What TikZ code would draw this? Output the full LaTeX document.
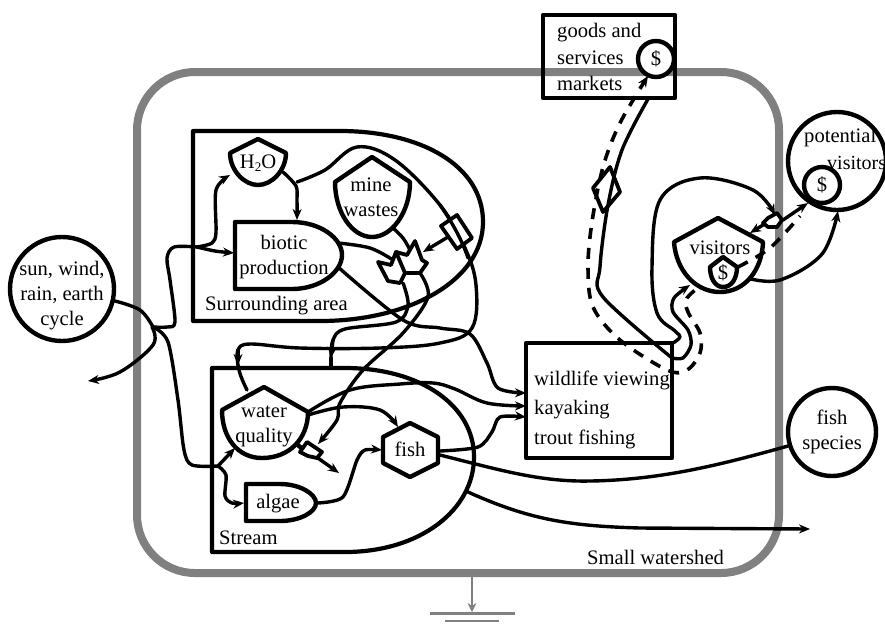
\documentclass[tikz,border=0pt]{standalone}
\usepackage{fontspec}
\setmainfont{Liberation Serif}
\usetikzlibrary{arrows.meta}
\tikzset{
  shp/.style={draw=black,line width=4.4pt,line join=round,fill=white},
  hollow/.style={draw=black,line width=4.2pt,line join=round},
  conn/.style={draw=black,line width=3.4pt,line cap=round,line join=round},
  tipped/.style={conn,-{Stealth[length=11pt,width=9pt]}},
  dashconn/.style={draw=black,line width=3.6pt,dash pattern=on 11pt off 9pt},
  dashtipped/.style={dashconn,-{Stealth[length=11pt,width=9pt]}},
  gate/.style={draw=black,line width=3.8pt,line join=round,fill=white},
  txt/.style={inner sep=0pt,align=center,font=\fontsize{20.6}{25}\selectfont},
  ltxt/.style={inner sep=0pt,align=left,anchor=west,font=\fontsize{20.6}{25}\selectfont},
  outline/.style={draw=black!50,line width=8pt},
  sink/.style={draw=black!50,line width=2.6pt},
}
\begin{document}
\begin{tikzpicture}[x=1pt,y=-1pt]
\useasboundingbox (0,0) rectangle (885,625);
% outer watershed
\draw[outline,rounded corners=58pt] (137,72) rectangle (779,573);
\coordinate (wsBot) at (472,577);
\coordinate (gnd) at (472,612);
\draw[sink,-{Stealth[length=9pt,width=9pt]}] (wsBot) -- (gnd);
\draw[sink] (430,613.5) -- (515,613.5);
\draw[sink] (445,621) -- (499,621);
\node[ltxt] (small) at (587,557) {Small watershed};

% regions
\draw[hollow] (193,131) -- (340,131) .. controls (420,131) and (483,165) .. (483,222) .. controls (483,280) and (410,321) .. (320,321) -- (193,321) -- cycle;
\node[ltxt] (surr) at (205,306) {Surrounding area};
\draw[hollow] (212,368) -- (345,368) .. controls (420,368) and (474,405) .. (474,457) .. controls (474,510) and (420,552) .. (345,552) -- (212,552) -- cycle;
\node[ltxt] (stream) at (219,538) {Stream};
% recreation box and markets box
\draw[shp] (526,343) rectangle (672,458);
\node[ltxt] (wv) at (534,380) {wildlife viewing};
\node[ltxt] (kay) at (534,410) {kayaking};
\node[ltxt] (trout) at (534,439) {trout fishing};
\draw[hollow] (543,15) rectangle (675,98);
\node[ltxt] (g1) at (557,33) {goods and};
\node[ltxt] (g2) at (557,58) {services};
\node[ltxt] (g3) at (557,83) {markets};

% connector end points
\coordinate (sunR) at (115,301);
\coordinate (jn1) at (153,327);
\coordinate (jn2) at (197,247);
\coordinate (jn3) at (218,466);
\coordinate (sinkA) at (88,381);
\coordinate (h2oIn) at (230,175);
\coordinate (h2oOut) at (283,172);
\coordinate (h2oOut2) at (297,182);
\coordinate (bioIn) at (297,220);
\coordinate (bioIn2) at (234,253);
\coordinate (bioOutA) at (338,243);
\coordinate (bioOutB) at (338,267);
\coordinate (mineOut) at (393,228);
\coordinate (gateInL) at (393,260);
\coordinate (gateInM) at (410,250);
\coordinate (gateOutL) at (403,283);
\coordinate (gateOutR) at (420,273);
\coordinate (gateInR) at (423,252);
\coordinate (swA) at (448,237);
\coordinate (wqIn) at (247,390);
\coordinate (wqMid) at (238,365);
\coordinate (strTop) at (331,367);
\coordinate (strMid) at (331,358);
\coordinate (wqLow) at (235,448);
\coordinate (wqR) at (308,412);
\coordinate (wqR2) at (308,415);
\coordinate (fishIn) at (398,427);
\coordinate (fishL) at (382,450);
\coordinate (fishR) at (440,451);
\coordinate (fishR2) at (440,455);
\coordinate (algIn) at (244,503);
\coordinate (algOut) at (317,503);
\coordinate (sg) at (318,444);
\coordinate (wqOut) at (298,445);
\coordinate (sgOut) at (339,473);
\coordinate (recA) at (526,393);
\coordinate (recB) at (526,406);
\coordinate (recC) at (526,417);
\coordinate (strOut) at (468,492);
\coordinate (outR) at (810,529);
\coordinate (speciesL) at (788,446);
\coordinate (recTop) at (673,343);
\coordinate (recTop2) at (672,358);
\coordinate (visIn) at (690,285);
\coordinate (goodsBot) at (648,99);
\coordinate (goodsDollar) at (648,76);
\coordinate (vdL) at (710,278);
\coordinate (vdR) at (738,267);
\coordinate (pdL) at (800,216);
\coordinate (pdB) at (808,203);
\coordinate (sw2In) at (775,215);
\coordinate (sw2A) at (763,225);
\coordinate (visTop) at (750,233);
\coordinate (visBR) at (747,278);
\coordinate (pvBot) at (838,211);

% sun and branches
\draw[conn] plot[smooth,tension=.6] coordinates {(sunR) (140,310) (jn1)};
\draw[tipped] plot[smooth,tension=.6] coordinates {(152,327) (153,345) (120,372) (sinkA)};
\draw[conn] plot[smooth,tension=.5] coordinates {(jn1) (167,327) (175,322) (170,280) (167,258) (174,247) (jn2)};
\draw[tipped] plot[smooth,tension=.5] coordinates {(jn2) (212,243) (216,232) (216,190) (h2oIn)};
\draw[tipped] plot[smooth,tension=.5] coordinates {(jn2) (215,251) (bioIn2)};
\draw[conn] plot[smooth,tension=.5] coordinates {(jn1) (168,342) (178,400) (184,450) (192,465) (jn3)};
\draw[tipped] (jn3) -- (wqLow);
\draw[tipped] plot[smooth,tension=.5] coordinates {(jn3) (226,475) (225,496) (232,503) (algIn)};

% H2O flows
\draw[tipped] plot[smooth,tension=.5] coordinates {(h2oOut) (296,186) (297,200) (bioIn)};
\draw[conn] plot[smooth,tension=.6] coordinates {(h2oOut2) (325,170) (357,147) (395,160) (440,205) (465,248) (476,285) (472,328) (440,343) (380,348) (300,348) (250,344) (238,350) (wqMid)};
\draw[tipped] (238,350) -- (wqMid);
\draw[conn] (wqMid) .. controls (239,372) and (242,380) .. (wqIn);
% biotic flows
\draw[conn] plot[smooth,tension=.6] coordinates {(bioOutA) (370,248) (gateInL)};
\draw[tipped] plot[smooth,tension=.55] coordinates {(bioOutB) (403,320) (440,328) (470,334) (487,363) (498,388) (recA)};
\draw[conn] plot[smooth,tension=.6] coordinates {(mineOut) (403,238) (gateInM)};
\draw[tipped] (swA) -- (gateInR);
\draw[conn] plot[smooth,tension=.55] coordinates {(gateOutL) (408,305) (396,322) (345,329) (333,340) (strMid)};
\draw[tipped] (333,340) -- (strMid);
\draw[conn] (strMid) -- (strTop);
\draw[tipped] plot[smooth,tension=.55] coordinates {(gateOutR) (428,297) (403,333) (363,370) (340,403) (337,420) (sg)};

% stream flows
\draw[tipped] plot[smooth,tension=.6] coordinates {(wqR) (350,390) (400,384) (433,383) (455,389) (487,403) (recB)};
\draw[tipped] plot[smooth,tension=.6] coordinates {(wqR2) (343,407) (380,410) (fishIn)};
\draw[tipped] plot[smooth,tension=.45] coordinates {(algOut) (343,497) (357,460) (365,450) (fishL)};
\draw[tipped] plot[smooth,tension=.5] coordinates {(fishR) (478,447) (492,432) (500,417) (recC)};
\draw[conn] (fishR2) .. controls (500,470) and (540,482) .. (590,481) .. controls (660,480) and (720,465) .. (speciesL);
\draw[tipped] (strOut) .. controls (530,520) and (570,526) .. (640,528) -- (outR);

% market flows
\draw[conn] plot[smooth,tension=.55] coordinates {(recTop2) (603,297) (600,267) (608,205) (622,150) (goodsBot)};
\draw[dashtipped] plot[smooth,tension=.55] coordinates {(vdL) (687,298) (688,312) (700,333) (700,353) (687,370) (667,370) (620,340) (593,307) (588,267) (592,222) (603,167) (620,123) (goodsDollar)};
\draw[tipped] plot[smooth,tension=.6] coordinates {(recTop) (680,337) (675,331) (657,313) (652,267) (660,200) (700,178) (753,190) (sw2In)};
\draw[tipped] plot[smooth,tension=.5] coordinates {(672,358) (683,358) (691,345) (688,330) (673,312) (674,298) (visIn)};
\draw[tipped] plot[smooth,tension=.6] coordinates {(visBR) (780,280) (822,254) (pvBot)};

% nodes
\draw[shp] (230,153) -- (258,139) -- (286,153) .. controls (286,170) and (272,185) .. (258,185) .. controls (244,185) and (230,170) .. (230,153) -- cycle;
\node[txt] (h2o) at (258,163) {H\raisebox{-.35ex}{\fontsize{13}{13}\selectfont 2}O};
\draw[shp] (235,222) -- (292,222) .. controls (320,222) and (342,238) .. (342,255) .. controls (342,272) and (320,289) .. (292,289) -- (235,289) -- cycle;
\node[txt] (bio) at (284,257) {biotic\\production};
\draw[shp] (335,182) -- (372,157) -- (410,182) .. controls (410,212) and (392,237) .. (372,237) .. controls (352,237) and (335,212) .. (335,182) -- cycle;
\node[txt] (mine) at (371,197) {mine\\wastes};
\draw[shp] (222,410) -- (264,387) -- (308,412) .. controls (308,438) and (290,458) .. (262,458) .. controls (238,458) and (222,438) .. (222,410) -- cycle;
\node[txt] (wq) at (264,426) {water\\quality};
\draw[shp] (410,423) -- (438,437) -- (438,463) -- (410,477) -- (383,463) -- (383,437) -- cycle;
\node[txt] (fish) at (410,449) {fish};
\draw[shp] (246,484) -- (280,484) .. controls (300,484) and (316,494) .. (316,503) .. controls (316,512) and (300,521) .. (280,521) -- (246,521) -- cycle;
\node[txt] (algae) at (278,504) {algae};
\node[shp,circle,minimum size=36pt,inner sep=0pt,font=\fontsize{20.6}{25}\selectfont] (gd) at (656,59) {\$};
\draw[shp] (674,242) -- (718,218) -- (763,242) .. controls (762,270) and (745,292) .. (720,292) .. controls (695,292) and (676,270) .. (674,242) -- cycle;
\node[txt] (vis) at (720,248) {visitors};
\draw[shp] (710,267) -- (723,257) -- (737,267) .. controls (737,278) and (732,287) .. (723,287) .. controls (715,287) and (710,278) .. (710,267) -- cycle;
\node[txt] (vd) at (723,273) {\$};
\draw[dashconn] plot[smooth,tension=.5] coordinates {(vdR) (770,248) (pdL)};
\node[shp,circle,minimum size=98pt,inner sep=0pt] (pv) at (837,161) {};
\node[ltxt] (pv1) at (804,138) {potential};
\node[ltxt,font=\fontsize{20}{25}\selectfont] (pv2) at (827,163) {visitors};
\node[shp,circle,minimum size=36pt,inner sep=0pt,font=\fontsize{20.6}{25}\selectfont] (pd) at (822,185) {\$};
\node[shp,circle,minimum size=104pt,inner sep=0pt] (sun) at (62,289) {};
\node[txt] (suntxt) at (62,296) {sun, wind,\\rain, earth\\cycle};
\node[shp,circle,minimum size=88pt,inner sep=0pt] (sp) at (832,432) {};
\node[txt] (sptxt) at (832,432) {fish\\species};

% gates
\draw[gate] (378,262) -- (391,265) -- (396,252) -- (407,257) -- (405,273) -- (400,283) -- (388,281) -- cycle;
\draw[gate] (396,252) -- (407,255) -- (415,241) -- (422,260) -- (427,263) -- (420,273) -- (405,273) -- cycle;
\draw[gate] (441,226) -- (457,215) -- (472,238) -- (457,249) -- cycle;
\draw[conn] (440,205) .. controls (452,222) and (462,240) .. (468,258);
% small gate in the stream
\draw[conn,line width=4.4pt] (wqOut) -- (310,456);
\draw[tipped] (315,456) -- (sgOut);
\draw[gate] (300,452) -- (307,442) -- (322,452) -- (317,458) -- (308,456) -- cycle;
% diamond on market line
\draw[gate,fill=none] (610,167) -- (620,192) -- (603,212) -- (593,188) -- cycle;
% gate near visitors
\draw[tipped] (783,220) -- (pdB);
\draw[tipped] (sw2A) -- (visTop);
\draw[gate] (763,223) -- (768,218) -- (777,213) -- (782,220) -- (777,227) -- (768,227) -- cycle;
\end{tikzpicture}
\end{document}
